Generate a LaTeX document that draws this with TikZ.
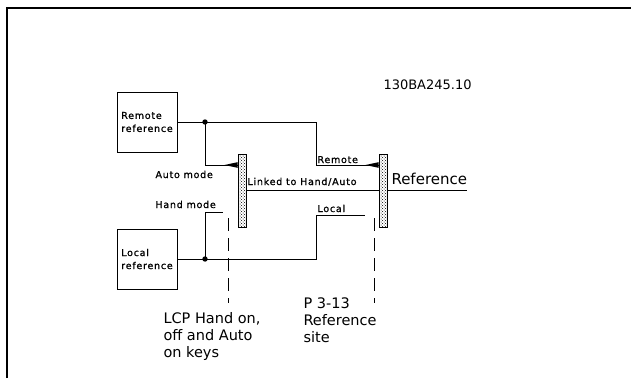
\documentclass[tikz,border=0pt]{standalone}
\usepackage{fontspec}
\setmainfont{DejaVu Sans}
\newfontfamily\cadfont[LetterSpace=8,FakeBold=1]{DejaVu Sans}
\usetikzlibrary{patterns}

\begin{document}
\begin{tikzpicture}[x=1pt,y=-1pt,line width=1pt,
    refbox/.style={draw,minimum width=60pt,minimum height=60pt,align=left,inner sep=0pt,font=\cadfont\fontsize{9.5}{13}\selectfont},
    swbar/.style={draw,pattern=crosshatch dots,minimum width=8pt,minimum height=73pt,inner sep=0pt},
    cad/.style={font=\cadfont\fontsize{9.5}{11}\selectfont,anchor=base west,inner sep=0pt},
    note/.style={font=\fontsize{14.5}{17}\selectfont,align=left,anchor=north west,inner sep=0pt}]
    \useasboundingbox (0,0) rectangle (631,378);
    \draw[line width=2pt] (7,378) -- (7,8) -- (631,8);
    \node[font=\fontsize{13}{15}\selectfont,anchor=base west,inner sep=0pt] (code) at (383,89) {130BA245.10};
    \node[refbox] (remref) at (147,122) {Remote\\reference};
    \node[refbox] (locref) at (147,259) {Local\\reference};
    \node[swbar] (sw1) at (242,190.5) {};
    \node[swbar] (sw2) at (383,190.5) {};
    \coordinate (lev) at (0,165);
    \coordinate (dotR) at (205,122);
    \coordinate (dotL) at (205,259);
    \coordinate (handend) at (223,212);
    \coordinate (locend) at (365,215);
    \coordinate (refend) at (467,190.5);
    \draw (remref.east) -- (316,122) |- (sw2.west |- lev);
    \draw (dotR) |- (sw1.west |- lev);
    \draw (locref.east) -- (316,259) |- (locend);
    \draw (dotL) |- (handend);
    \draw (sw1.east) -- (sw2.west);
    \draw (sw2.east) -- (refend);
    \foreach \s in {sw1,sw2}
        \fill (\s.west |- lev) -- ++(0,-2.8) -- ++(-13,2.8) -- ++(13,2.8) -- cycle;
    \fill (dotR) circle (2.7);
    \fill (dotL) circle (2.7);
    \draw[dash pattern=on 13pt off 7pt] (228,218) -- (228,303);
    \draw[dash pattern=on 13pt off 7pt] (374,218) -- (374,303);
    \node[cad] (automode) at (155,178) {Auto mode};
    \node[cad] (handmode) at (155,208) {Hand mode};
    \node[cad] (linked) at (247,185) {Linked to Hand/Auto};
    \node[cad] (remlbl) at (317,163) {Remote};
    \node[cad] (loclbl) at (317,212) {Local};
    \node[font=\fontsize{15}{17}\selectfont,anchor=base west,inner sep=0pt] (reflbl) at (391,184) {Reference};
    \node[note] (lcp) at (163,312) {LCP Hand on,\\off and Auto\\on keys};
    \node[note] (site) at (303,297) {P 3-13\\Reference\\site};
\end{tikzpicture}
\end{document}
